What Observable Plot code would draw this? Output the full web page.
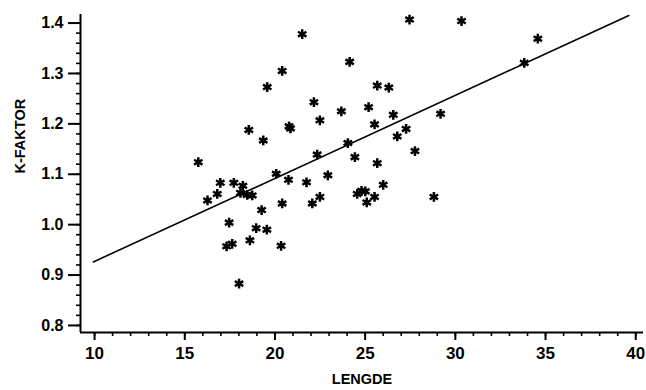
<!DOCTYPE html>
<html><head><meta charset="utf-8">
<script src="https://cdn.jsdelivr.net/npm/d3@7"></script>
<script src="https://cdn.jsdelivr.net/npm/@observablehq/plot@0.6"></script>
<style>body{margin:0;background:#fff}</style>
</head><body><div id="chart"></div>
<script>
// Data
const lengde = [21.51, 30.34, 27.46, 34.57, 33.82, 24.14, 20.40, 19.57, 22.16, 22.49,
  20.78, 20.86, 18.55, 19.35, 15.75, 22.34, 25.67, 26.31, 23.68, 25.19,
  25.52, 26.56, 29.18, 27.27, 26.78, 24.04, 24.43, 27.76, 25.67, 21.75,
  22.93, 26.00, 28.81, 22.07, 22.49, 24.56, 24.80, 25.01, 25.09, 25.52,
  20.07, 20.75, 16.97, 17.72, 18.22, 16.80, 16.26, 18.09, 18.46, 18.74,
  20.40, 19.26, 17.46, 18.96, 19.55, 17.63, 17.32, 18.61, 20.34, 18.01];
const kfaktor = [1.378, 1.404, 1.407, 1.369, 1.321, 1.323, 1.305, 1.273, 1.243, 1.207,
  1.195, 1.191, 1.188, 1.167, 1.124, 1.139, 1.276, 1.272, 1.225, 1.233,
  1.199, 1.218, 1.220, 1.190, 1.175, 1.162, 1.134, 1.146, 1.122, 1.084,
  1.098, 1.079, 1.055, 1.042, 1.055, 1.061, 1.067, 1.066, 1.044, 1.055,
  1.101, 1.089, 1.083, 1.083, 1.077, 1.061, 1.048, 1.063, 1.059, 1.058,
  1.042, 1.029, 1.004, 0.993, 0.990, 0.962, 0.957, 0.969, 0.958, 0.883];
const fitX = [9.93, 39.62];
const fitY = [0.926, 1.415];
const xMajorTicks = [10, 15, 20, 25, 30, 35, 40];
const yMajorTicks = [0.8, 0.9, 1.0, 1.1, 1.2, 1.3, 1.4];
const yTickLabels = ["0.8", "0.9", "1.0", "1.1", "1.2", "1.3", "1.4"];
const xMinorTicks = [10,11,12,13,14,15,16,17,18,19,20,21,22,23,24,25,26,27,28,29,30,31,32,33,34,35,36,37,38,39,40];
const yMinorTicks = [0.8,0.82,0.84,0.86,0.88,0.9,0.92,0.94,0.96,0.98,1.0,1.02,1.04,1.06,1.08,1.1,1.12,1.14,1.16,1.18,1.2,1.22,1.24,1.26,1.28,1.3,1.32,1.34,1.36,1.38,1.4];
const xTitle = "LENGDE";
const yTitle = "K-FAKTOR";

const points = lengde.map((x, i) => ({x, y: kfaktor[i]}));
const fit = fitX.map((x, i) => ({x, y: fitY[i]}));
const xDomain = [9.22, 40.43];
const yDomain = [0.786, 1.417];

const chart = Plot.plot({
  width: 646, height: 390,
  marginLeft: 80, marginRight: 3, marginTop: 14, marginBottom: 58,
  style: {fontFamily: "'Liberation Sans', Arial, sans-serif", fontSize: "15px", fontWeight: "bold", color: "#000", background: "#fff", overflow: "visible"},
  x: {domain: xDomain},
  y: {domain: yDomain},
  marks: [
    Plot.axisX({ticks: xMinorTicks, tickSize: 4, tickFormat: () => "", label: null, strokeWidth: 1.6}),
    Plot.axisX({ticks: xMajorTicks, tickSize: 8, tickPadding: 6, label: null, strokeWidth: 2, fontSize: 17}),
    Plot.axisY({ticks: yMinorTicks, tickSize: 4, tickFormat: () => "", label: null, strokeWidth: 1.6}),
    Plot.axisY({ticks: yMajorTicks, tickSize: 12, tickPadding: 5, label: null, strokeWidth: 2, fontSize: 16,
      tickFormat: (d) => yTickLabels[yMajorTicks.indexOf(d)]}),
    Plot.ruleX([xDomain[0]], {stroke: "#000", strokeWidth: 2}),
    Plot.ruleY([yDomain[0]], {stroke: "#000", strokeWidth: 2}),
    Plot.line(fit, {x: "x", y: "y", stroke: "#000", strokeWidth: 1.6}),
    Plot.dot(points, {x: "x", y: "y", symbol: "asterisk", r: 4.6, stroke: "#000", strokeWidth: 2.5}),
    Plot.text([xTitle], {frameAnchor: "bottom", dy: 51, text: (d) => d, fontSize: 14.5, fontWeight: "bold"}),
    Plot.text([yTitle], {frameAnchor: "left", dx: -60, rotate: -90, text: (d) => d, fontSize: 14.5, fontWeight: "bold", letterSpacing: "0.5px"})
  ]
});
document.getElementById("chart").appendChild(chart);
</script>
</body></html>
